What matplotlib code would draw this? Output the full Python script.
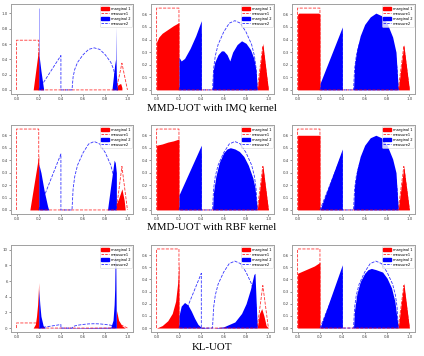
import matplotlib
matplotlib.use("Agg")
import matplotlib.pyplot as plt
from matplotlib.patches import Patch
from matplotlib.lines import Line2D

# ---- reference measures (shared by all panels) ----
measure1_x = [0.0, 0.0, 0.2, 0.2, 0.9, 0.95, 1.0]
measure1_y = [0.0, 0.65, 0.65, 0.0, 0.0, 0.35, 0.0]
measure2_x = [0.2, 0.4, 0.4, 0.5, 0.51, 0.525, 0.55, 0.6, 0.65, 0.7, 0.75, 0.8, 0.85, 0.875, 0.89, 0.9]
measure2_y = [0.0, 0.45, 0.0, 0.0, 0.17, 0.27, 0.36, 0.46, 0.53, 0.55, 0.53, 0.46, 0.36, 0.27, 0.17, 0.0]

# ---- row 1: MMD-UOT with IMQ kernel ----
imq1_m1_x = [0.0, 0.15, 0.2, 0.2, 0.9, 0.91, 0.93, 0.94, 0.95, 0.95]
imq1_m1_y = [0.0, 0.0, 0.55, 0.0, 0.0, 0.06, 0.08, 0.08, 0.03, 0.0]
imq1_m2_x = [0.0, 0.2, 0.2, 0.203, 0.203, 0.22, 0.245, 0.86, 0.885, 0.893, 0.895, 0.897, 0.9, 0.91]
imq1_m2_y = [0.0, 0.0, 1.07, 1.07, 0.45, 0.25, 0.0, 0.0, 0.33, 0.4, 0.83, 0.4, 0.2, 0.0]

imq2_m1_x = [0.0, 0.0, 0.02, 0.05, 0.1, 0.15, 0.2, 0.2, 0.9, 0.95, 1.0]
imq2_m1_y = [0.0, 0.38, 0.42, 0.45, 0.48, 0.51, 0.535, 0.0, 0.0, 0.37, 0.0]
imq2_m2_x = [0.2, 0.2, 0.22, 0.25, 0.3, 0.35, 0.4, 0.4, 0.5, 0.505, 0.52, 0.55, 0.58, 0.6, 0.63,
             0.655, 0.68, 0.72, 0.76, 0.8, 0.84, 0.87, 0.89, 0.9]
imq2_m2_y = [0.0, 0.26, 0.23, 0.25, 0.33, 0.43, 0.55, 0.0, 0.0, 0.15, 0.22, 0.28, 0.31, 0.31, 0.28,
             0.23, 0.30, 0.36, 0.39, 0.37, 0.32, 0.25, 0.15, 0.0]

imq3_m1_x = [0.0, 0.0, 0.01, 0.1, 0.19, 0.2, 0.2, 0.9, 0.95, 1.0]
imq3_m1_y = [0.0, 0.60, 0.61, 0.61, 0.61, 0.60, 0.0, 0.0, 0.36, 0.0]
imq3_m2_x = [0.2, 0.2, 0.4, 0.4, 0.5, 0.51, 0.53, 0.56, 0.6, 0.65, 0.7, 0.75, 0.8, 0.85, 0.88, 0.9]
imq3_m2_y = [0.0, 0.05, 0.5, 0.0, 0.0, 0.2, 0.32, 0.43, 0.52, 0.58, 0.61, 0.59, 0.53, 0.42, 0.3, 0.0]

# ---- row 2: MMD-UOT with RBF kernel ----
rbf1_m1_x = [0.0, 0.12, 0.2, 0.2, 0.9, 0.9, 0.92, 0.95, 0.97, 0.98]
rbf1_m1_y = [0.0, 0.0, 0.44, 0.0, 0.0, 0.05, 0.09, 0.17, 0.08, 0.0]
rbf1_m2_x = [0.2, 0.2, 0.22, 0.25, 0.28, 0.29, 0.82, 0.85, 0.87, 0.88, 0.89, 0.9, 0.9]
rbf1_m2_y = [0.0, 0.37, 0.3, 0.15, 0.03, 0.0, 0.0, 0.2, 0.33, 0.4, 0.38, 0.3, 0.0]

rbf2_m1_x = [0.0, 0.0, 0.05, 0.1, 0.15, 0.2, 0.2, 0.9, 0.95, 1.0]
rbf2_m1_y = [0.0, 0.52, 0.53, 0.545, 0.555, 0.57, 0.0, 0.0, 0.36, 0.0]
rbf2_m2_x = [0.2, 0.2, 0.4, 0.4, 0.5, 0.51, 0.53, 0.56, 0.6, 0.63, 0.66, 0.7, 0.74, 0.78, 0.82, 0.86, 0.88, 0.9]
rbf2_m2_y = [0.0, 0.12, 0.52, 0.0, 0.0, 0.15, 0.27, 0.38, 0.46, 0.49, 0.5, 0.49, 0.47, 0.43, 0.36, 0.26, 0.18, 0.0]

rbf3_m1_x = [0.0, 0.0, 0.2, 0.2, 0.9, 0.95, 1.0]
rbf3_m1_y = [0.0, 0.60, 0.60, 0.0, 0.0, 0.35, 0.0]
rbf3_m2_x = [0.2, 0.4, 0.4, 0.5, 0.51, 0.53, 0.56, 0.6, 0.65, 0.7, 0.75, 0.8, 0.85, 0.88, 0.9]
rbf3_m2_y = [0.0, 0.49, 0.0, 0.0, 0.2, 0.32, 0.43, 0.52, 0.58, 0.60, 0.58, 0.52, 0.41, 0.3, 0.0]

# ---- row 3: KL-UOT ----
kl1_m1_x = [0.0, 0.15, 0.17, 0.18, 0.19, 0.2, 0.2, 0.9, 0.9, 0.92, 0.95, 0.98]
kl1_m1_y = [0.0, 0.0, 0.5, 1.5, 3.0, 5.8, 0.0, 0.0, 2.3, 1.0, 0.3, 0.0]
kl1_m2_x = [0.2, 0.2, 0.21, 0.22, 0.24, 0.26, 0.85, 0.87, 0.88, 0.885, 0.89, 0.895, 0.9]
kl1_m2_y = [0.0, 5.0, 3.0, 1.5, 0.3, 0.0, 0.1, 1.0, 3.0, 5.0, 10.1, 8.0, 0.0]

kl2_m1_x = [0.0, 0.05, 0.1, 0.14, 0.17, 0.19, 0.2, 0.2, 0.9, 0.92, 0.94, 0.96, 0.98, 1.0]
kl2_m1_y = [0.0, 0.02, 0.06, 0.12, 0.22, 0.38, 0.55, 0.0, 0.0, 0.12, 0.16, 0.1, 0.02, 0.0]
kl2_m2_x = [0.2, 0.2, 0.22, 0.25, 0.28, 0.31, 0.34, 0.37, 0.4, 0.5, 0.6, 0.7, 0.76, 0.8, 0.84, 0.87, 0.88, 0.9]
kl2_m2_y = [0.0, 0.1, 0.18, 0.21, 0.19, 0.14, 0.08, 0.03, 0.005, 0.0, 0.01, 0.05, 0.12, 0.2, 0.32, 0.44, 0.45, 0.0]

kl3_m1_x = [0.0, 0.0, 0.05, 0.1, 0.15, 0.2, 0.2, 0.9, 0.95, 1.0]
kl3_m1_y = [0.0, 0.45, 0.47, 0.49, 0.51, 0.54, 0.0, 0.0, 0.37, 0.0]
kl3_m2_x = [0.2, 0.4, 0.4, 0.5, 0.51, 0.53, 0.56, 0.6, 0.63, 0.66, 0.7, 0.73, 0.76, 0.8, 0.84, 0.87, 0.9]
kl3_m2_y = [0.0, 0.52, 0.0, 0.0, 0.15, 0.28, 0.38, 0.45, 0.48, 0.49, 0.48, 0.47, 0.46, 0.41, 0.33, 0.22, 0.0]

row_titles = ["MMD-UOT with IMQ kernel", "MMD-UOT with RBF kernel", "KL-UOT"]
legend_labels = ["marginal 1", "measure1", "marginal 2", "measure2"]

panels = [
    [(imq1_m1_x, imq1_m1_y, imq1_m2_x, imq1_m2_y),
     (imq2_m1_x, imq2_m1_y, imq2_m2_x, imq2_m2_y),
     (imq3_m1_x, imq3_m1_y, imq3_m2_x, imq3_m2_y)],
    [(rbf1_m1_x, rbf1_m1_y, rbf1_m2_x, rbf1_m2_y),
     (rbf2_m1_x, rbf2_m1_y, rbf2_m2_x, rbf2_m2_y),
     (rbf3_m1_x, rbf3_m1_y, rbf3_m2_x, rbf3_m2_y)],
    [(kl1_m1_x, kl1_m1_y, kl1_m2_x, kl1_m2_y),
     (kl2_m1_x, kl2_m1_y, kl2_m2_x, kl2_m2_y),
     (kl3_m1_x, kl3_m1_y, kl3_m2_x, kl3_m2_y)],
]

W, H = 424, 356
fig = plt.figure(figsize=(W / 100, H / 100), dpi=100)

col_px = [(11, 133), (151, 274), (292, 415)]
row_px = [(4, 94), (125, 214), (245, 332)]
title_y_px = [108, 228, 347]

spine_col = "#a0a0a0"
for r in range(3):
    for c in range(3):
        x0, x1 = col_px[c]
        y0, y1 = row_px[r]
        ax = fig.add_axes([x0 / W, 1 - y1 / H, (x1 - x0) / W, (y1 - y0) / H])
        m1x, m1y, m2x, m2y = panels[r][c]
        ax.fill_between(m1x, m1y, 0, color="red", lw=0, zorder=2)
        ax.plot(measure1_x, measure1_y, ls="--", color="red", lw=0.6, alpha=0.8, zorder=3)
        ax.fill_between(m2x, m2y, 0, color="blue", lw=0, zorder=2)
        ax.plot(measure2_x, measure2_y, ls="--", color="blue", lw=0.6, alpha=0.8, zorder=3)
        ax.set_xticks([0.0, 0.2, 0.4, 0.6, 0.8, 1.0])
        if r == 2 and c == 0:
            ax.set_yticks([0, 2, 4, 6, 8, 10])
        elif r == 0 and c == 0:
            ax.set_yticks([0.0, 0.2, 0.4, 0.6, 0.8, 1.0])
        else:
            ax.set_yticks([0.0, 0.1, 0.2, 0.3, 0.4, 0.5, 0.6])
        ax.tick_params(labelsize=2.8, length=1.2, width=0.4, pad=1.2,
                       colors="#444444")
        for s in ax.spines.values():
            s.set_color(spine_col)
            s.set_linewidth(0.7)
        handles = [Patch(facecolor="red", edgecolor="red"),
                   Line2D([], [], ls="--", color="red", lw=0.5),
                   Patch(facecolor="blue", edgecolor="blue"),
                   Line2D([], [], ls="--", color="blue", lw=0.5)]
        leg = ax.legend(handles, legend_labels, loc="upper right", fontsize=2.6,
                        handlelength=2.2, handleheight=0.8, labelspacing=0.3,
                        borderpad=0.3, handletextpad=0.5, framealpha=0.8,
                        borderaxespad=0.4)
        leg.get_frame().set_linewidth(0.4)
    fig.text(0.5, 1 - title_y_px[r] / H, row_titles[r], ha="center", va="center",
             fontsize=7.8, family="Liberation Serif")

fig.savefig("out.png", dpi=100)
